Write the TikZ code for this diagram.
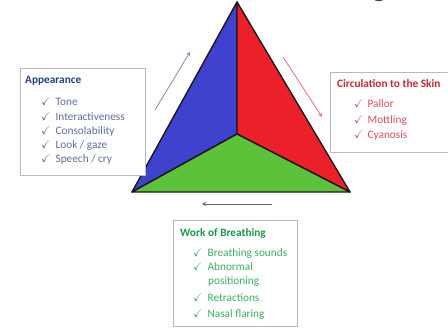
\documentclass[tikz,border=0pt]{standalone}
\usepackage{amssymb}
\usepackage{fontspec}
\setmainfont{Carlito}

\definecolor{appblue}{RGB}{62,66,204}
\definecolor{circred}{RGB}{236,32,40}
\definecolor{breathgreen}{RGB}{92,194,58}
\definecolor{edgedark}{RGB}{30,20,30}
\definecolor{boxgray}{RGB}{185,185,185}
\definecolor{apptitle}{RGB}{40,60,130}
\definecolor{appitem}{RGB}{95,110,160}
\definecolor{circtitle}{RGB}{200,40,50}
\definecolor{circitem}{RGB}{215,80,90}
\definecolor{breathtitle}{RGB}{30,150,70}
\definecolor{breathitem}{RGB}{60,175,95}

\begin{document}
\begin{tikzpicture}[>=stealth, x=1pt, y=-1pt,
    font=\fontsize{11.3}{13}\selectfont,
    face/.style={draw=edgedark, line width=1.4pt, line join=round},
    infobox/.style={draw=boxgray, fill=white, line width=0.8pt},
    itemtext/.style={anchor=base west, inner sep=0pt}]
    \useasboundingbox (0,0) rectangle (448,328);
    \clip (0,0) rectangle (448,328);

    % Tiêu đề (bị cắt ở mép trên)
    \node[anchor=base, inner sep=0pt, text=darkgray, font=\fontsize{30}{33}\selectfont] (title) at (228,-3) {Pediatric Assessment Triangle};

    % Ba mặt của tam giác
    \coordinate (apex) at (237,2);
    \coordinate (lft) at (132,192);
    \coordinate (rgt) at (350,192);
    \coordinate (ctr) at (237,134);
    \filldraw[face, fill=appblue] (apex) -- (ctr) -- (lft) -- cycle;
    \filldraw[face, fill=circred] (apex) -- (rgt) -- (ctr) -- cycle;
    \filldraw[face, fill=breathgreen] (lft) -- (ctr) -- (rgt) -- cycle;

    % Mũi tên dọc theo các cạnh
    \coordinate (upfrom) at (155,110);
    \coordinate (upto) at (190,52);
    \coordinate (downfrom) at (283,57);
    \coordinate (downto) at (322,117);
    \coordinate (backfrom) at (272,204);
    \coordinate (backto) at (202,204);
    \draw[->, appitem!80, line width=0.8pt] (upfrom) -- (upto);
    \draw[->, circitem!80, line width=0.8pt] (downfrom) -- (downto);
    \draw[->, darkgray!80, line width=0.8pt] (backfrom) -- (backto);

    % Hộp Appearance
    \draw[infobox] (20,68) rectangle (145,175);
    \node[itemtext, text=apptitle] (apphead) at (25,84) {\textbf{Appearance}};
    \foreach \txt/\yy [count=\i] in {Tone/106, Interactiveness/120.3, Consolability/134.5, {Look / gaze}/148.7, {Speech / cry}/163}
        \node[itemtext, text=appitem] (app\i) at (41,\yy) {$\checkmark$\hspace{5pt}\txt};

    % Hộp Circulation to the Skin
    \draw[infobox] (330,72) rectangle (452,152);
    \node[itemtext, text=circtitle] (circhead) at (337,88) {\textbf{Circulation to the Skin}};
    \foreach \txt/\yy [count=\i] in {Pallor/107.5, Mottling/123.5, Cyanosis/138.5}
        \node[itemtext, text=circitem] (circ\i) at (354,\yy) {$\checkmark$\hspace{4pt}\txt};

    % Hộp Work of Breathing
    \draw[infobox] (173,220) rectangle (297,326);
    \node[itemtext, text=breathtitle] (breathhead) at (180,236.5) {\textbf{Work of Breathing}};
    \foreach \txt/\yy [count=\i] in {Breathing sounds/256.5, Abnormal/270.5, Retractions/301.5, Nasal flaring/317.5}
        \node[itemtext, text=breathitem] (breath\i) at (193,\yy) {$\checkmark$\hspace{5pt}\txt};
    \node[itemtext, text=breathitem] (breathwrap) at (208,285) {positioning};
\end{tikzpicture}
\end{document}
